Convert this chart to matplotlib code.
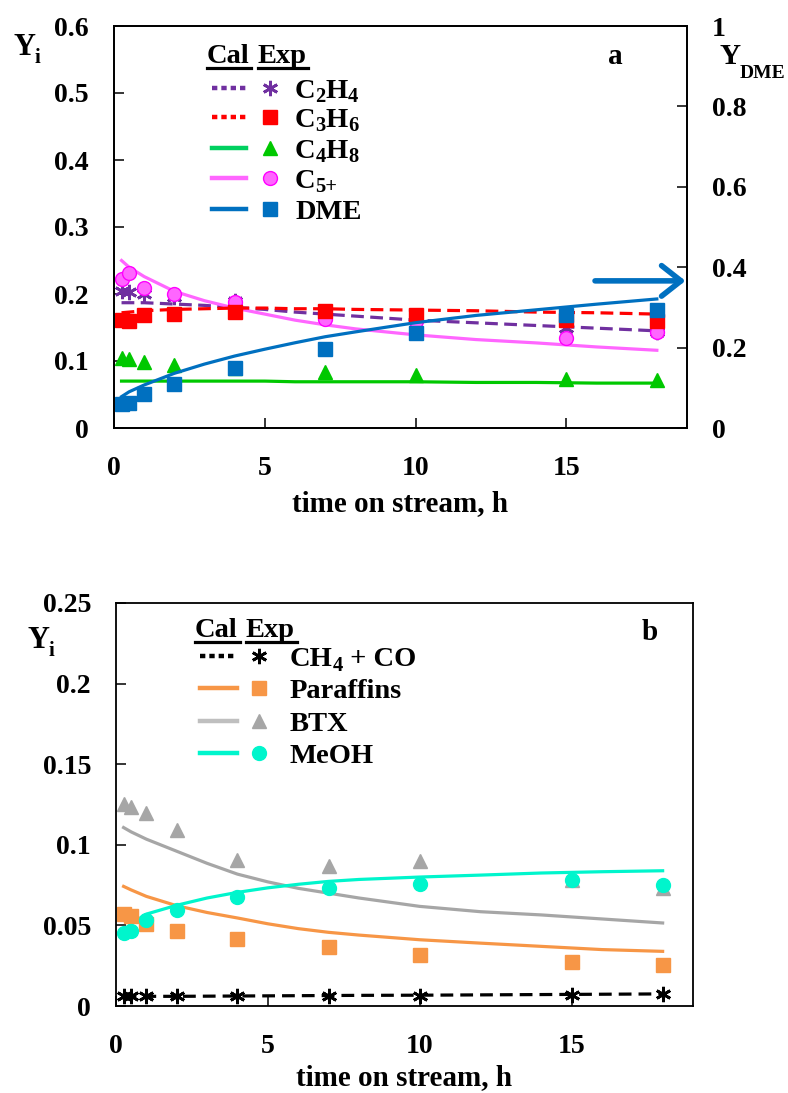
import matplotlib
matplotlib.use("Agg")
import matplotlib.pyplot as plt
from matplotlib.lines import Line2D
from matplotlib.ticker import FuncFormatter, MultipleLocator

plt.rcParams['font.family'] = ['Liberation Serif', 'DejaVu Serif']
plt.rcParams['font.weight'] = 'bold'
plt.rcParams['axes.labelweight'] = 'bold'

# ---------------- data: panel a ----------------
t_exp = [0.25, 0.5, 1, 2, 4, 7, 10, 15, 18]
c2h4_exp = [0.205, 0.203, 0.200, 0.195, 0.190, 0.170, 0.165, 0.149, 0.143]
c3h6_exp = [0.161, 0.160, 0.168, 0.170, 0.173, 0.175, 0.169, 0.161, 0.159]
c4h8_exp = [0.104, 0.103, 0.099, 0.094, 0.090, 0.084, 0.079, 0.073, 0.072]
c5_exp = [0.222, 0.232, 0.209, 0.200, 0.188, 0.163, 0.160, 0.135, 0.144]
dme_exp = [0.059, 0.061, 0.084, 0.109, 0.150, 0.196, 0.236, 0.281, 0.293]

t_cal = [0.25, 0.5, 1, 2, 3, 4, 5, 6, 7, 8, 10, 12, 14, 16, 18]
c2h4_cal = [0.187, 0.187, 0.187, 0.185, 0.183, 0.180, 0.177, 0.173, 0.170, 0.167,
            0.161, 0.157, 0.153, 0.149, 0.145]
c3h6_cal = [0.172, 0.173, 0.175, 0.177, 0.178, 0.179, 0.179, 0.178, 0.178, 0.177,
            0.176, 0.175, 0.173, 0.172, 0.170]
c4h8_cal = [0.070, 0.070, 0.070, 0.070, 0.070, 0.070, 0.070, 0.069, 0.069, 0.069,
            0.069, 0.068, 0.068, 0.067, 0.067]
c5_cal = [0.250, 0.240, 0.226, 0.204, 0.190, 0.179, 0.170, 0.161, 0.154, 0.148,
          0.139, 0.132, 0.127, 0.121, 0.116]
dme_cal = [0.078, 0.090, 0.107, 0.136, 0.159, 0.179, 0.196, 0.212, 0.227, 0.239,
           0.262, 0.280, 0.294, 0.308, 0.321]

# ---------------- data: panel b ----------------
ch4co_exp = [0.006, 0.006, 0.006, 0.006, 0.0062, 0.0064, 0.0065, 0.0068, 0.0075]
paraf_exp = [0.0571, 0.0556, 0.0511, 0.0467, 0.0416, 0.0366, 0.0318, 0.0273, 0.0255]
btx_exp = [0.1254, 0.1233, 0.1196, 0.1093, 0.0907, 0.0870, 0.0897, 0.0780, 0.0730]
meoh_exp = [0.0453, 0.0463, 0.0531, 0.0597, 0.0674, 0.0732, 0.0757, 0.0783, 0.0752]

ch4co_cal = [0.006, 0.006, 0.006, 0.006, 0.0061, 0.0062, 0.0063, 0.0064, 0.0065, 0.0066,
             0.0067, 0.0069, 0.0071, 0.0073, 0.0075]
paraf_cal = [0.0742, 0.0720, 0.0680, 0.0622, 0.0580, 0.0546, 0.0510, 0.0480, 0.0457,
             0.0440, 0.0411, 0.0390, 0.0370, 0.0350, 0.0339]
btx_cal = [0.1107, 0.1080, 0.1035, 0.0960, 0.0885, 0.0818, 0.0770, 0.0730, 0.0700,
           0.0670, 0.0618, 0.0585, 0.0565, 0.0540, 0.0515]
meoh_cal = [0.0470, 0.0510, 0.0570, 0.0625, 0.0670, 0.0705, 0.0733, 0.0755, 0.0773,
            0.0785, 0.0800, 0.0812, 0.0825, 0.0833, 0.0839]

xticks = [0, 5, 10, 15]

# ---------------- styling ----------------
PURPLE = '#7030A0'
RED = '#FF0000'
GREEN = '#00C800'
PINK = '#FF66FF'
PINK_EDGE = '#FF00FF'
BLUE = '#0070C0'
ORANGE = '#F79646'
GRAY = '#A6A6A6'
CYAN = '#00F5CC'

W, H = 788, 1093
fig = plt.figure(figsize=(W / 100, H / 100), dpi=100)
renderer = fig.canvas.get_renderer()


def box(x0, x1, ytop, ybot):
    return [x0 / W, 1 - ybot / H, (x1 - x0) / W, (ybot - ytop) / H]


def fp(x, y):
    return (x / W, 1 - y / H)


def chem(x, base, segments, fs, sub_fs=None, drop=4):
    """Write text with subscripts; x, base in pixels (base = baseline y)."""
    if sub_fs is None:
        sub_fs = fs * 0.72
    for s, is_sub in segments:
        size = sub_fs if is_sub else fs
        yb = base + drop if is_sub else base
        t = fig.text(*fp(x, yb), s, fontsize=size, va='baseline', ha='left')
        bb = t.get_window_extent(renderer=renderer)
        x += bb.width


fmt = FuncFormatter(lambda v, p: '%g' % round(v, 4))
TICK_FS = 20

asterisk = (6, 2, 0)


def style_axis(ax):
    for s in ax.spines.values():
        s.set_linewidth(1.3)
    ax.tick_params(direction='in', length=7, width=1.1, labelsize=TICK_FS)
    ax.tick_params(axis='x', pad=20)
    ax.tick_params(axis='y', pad=18)


# ================= panel a =================
axa = fig.add_axes(box(114, 687, 26, 428))
axa2 = axa.twinx()
axa.set_xlim(0, 19)
axa.set_ylim(0, 0.6)
axa2.set_ylim(0, 1.0)
axa.set_xticks(xticks)
axa.yaxis.set_major_locator(MultipleLocator(0.1))
axa2.yaxis.set_major_locator(MultipleLocator(0.2))
axa.yaxis.set_major_formatter(fmt)
axa2.yaxis.set_major_formatter(fmt)
style_axis(axa)
style_axis(axa2)

LW = 2.3
DASH = (0, (4, 2))
axa.plot(t_cal, c2h4_cal, color=PURPLE, lw=LW, ls=DASH)
axa.plot(t_cal, c4h8_cal, color=GREEN, lw=LW)
axa.plot(t_cal, c5_cal, color=PINK, lw=LW)
axa.plot(t_cal, c3h6_cal, color=RED, lw=LW, ls=DASH)
MS = 10
axa.plot(t_exp, c2h4_exp, ls='none', marker=asterisk, ms=11, mew=2, color=PURPLE)
axa.plot(t_exp, c4h8_exp, ls='none', marker='^', ms=MS, color=GREEN, mec=GREEN)
axa.plot(t_exp, c5_exp, ls='none', marker='o', ms=MS, color=PINK, mec=PINK_EDGE, mew=1)
axa.plot(t_exp, c3h6_exp, ls='none', marker='s', ms=MS - 0.5, color=RED, mec=RED)
axa2.plot(t_cal, dme_cal, color=BLUE, lw=LW)
axa2.plot(t_exp, dme_exp, ls='none', marker='s', ms=MS - 0.5, color=BLUE, mec=BLUE)

axa2.annotate('', xy=(18.95, 0.366), xytext=(15.95, 0.366), xycoords='data',
              arrowprops=dict(arrowstyle='->,head_length=0.7,head_width=0.55',
                              lw=4, color=BLUE, mutation_scale=20,
                              shrinkA=0, shrinkB=0))

axa.set_xlabel('time on stream, h', fontsize=21, labelpad=7, fontweight='bold')

chem(13, 55, [('Y', False), ('i', True)], 22, sub_fs=15, drop=8)
chem(719, 64, [('Y', False), ('DME', True)], 21, sub_fs=14, drop=14)
fig.text(*fp(615, 57), 'a', fontsize=21, va='center', ha='center')

# legend a (manual)
LFS = 20.5
fig.text(*fp(207, 63), 'Cal', fontsize=LFS, va='baseline', ha='left')
fig.text(*fp(258, 63), 'Exp', fontsize=LFS, va='baseline', ha='left')
fig.add_artist(Line2D([207 / W, 251 / W], [1 - 68 / H] * 2, color='black', lw=2.3,
                      transform=fig.transFigure))
fig.add_artist(Line2D([258 / W, 308 / W], [1 - 68 / H] * 2, color='black', lw=2.3,
                      transform=fig.transFigure))
rows_a = [
    (88, PURPLE, (0, (1.2, 0.9)), asterisk, PURPLE, PURPLE,
     [('C', False), ('2', True), ('H', False), ('4', True)]),
    (117, RED, (0, (1.2, 0.9)), 's', RED, RED,
     [('C', False), ('3', True), ('H', False), ('6', True)]),
    (148, '#00D060', '-', '^', GREEN, GREEN,
     [('C', False), ('4', True), ('H', False), ('8', True)]),
    (178, PINK, '-', 'o', PINK, PINK_EDGE, [('C', False), ('5+', True)]),
    (209, BLUE, '-', 's', BLUE, BLUE, [('DME', False)]),
]
for y, lc, ls, mk, mc, mec, segs in rows_a:
    fig.add_artist(Line2D([212 / W, 246 / W], [1 - y / H] * 2, color=lc, lw=3.2, ls=ls,
                          transform=fig.transFigure))
    fig.add_artist(Line2D([270 / W], [1 - y / H], color=mc, marker=mk, ms=11 if mk == asterisk else MS,
                          mec=mec, mew=2 if mk == asterisk else 1, ls='none',
                          transform=fig.transFigure))
    chem(295, y + 10, segs, LFS, drop=4)

# ================= panel b =================
axb = fig.add_axes(box(116, 693, 603, 1006))
axb.set_xlim(0, 19)
axb.set_ylim(0, 0.25)
axb.set_xticks(xticks)
axb.yaxis.set_major_locator(MultipleLocator(0.05))
axb.yaxis.set_major_formatter(fmt)
style_axis(axb)
axb.tick_params(right=False)

axb.plot(t_cal, ch4co_cal, color='black', lw=LW, ls=(0, (4, 2.2)))
axb.plot(t_cal, paraf_cal, color=ORANGE, lw=LW)
axb.plot(t_cal, btx_cal, color=GRAY, lw=LW)
axb.plot(t_cal, meoh_cal, color=CYAN, lw=LW)
axb.plot(t_exp, ch4co_exp, ls='none', marker=asterisk, ms=11, mew=2, color='black')
axb.plot(t_exp, paraf_exp, ls='none', marker='s', ms=MS - 0.5, color=ORANGE, mec=ORANGE)
axb.plot(t_exp, btx_exp, ls='none', marker='^', ms=MS, color=GRAY, mec=GRAY)
axb.plot(t_exp, meoh_exp, ls='none', marker='o', ms=MS, color=CYAN, mec=CYAN)

axb.set_xlabel('time on stream, h', fontsize=21, labelpad=4, fontweight='bold')

chem(27, 648, [('Y', False), ('i', True)], 22, sub_fs=15, drop=8)
fig.text(*fp(650, 632), 'b', fontsize=21, va='center', ha='center')

fig.text(*fp(195, 637), 'Cal', fontsize=LFS, va='baseline', ha='left')
fig.text(*fp(246, 637), 'Exp', fontsize=LFS, va='baseline', ha='left')
fig.add_artist(Line2D([195 / W, 240 / W], [1 - 642 / H] * 2, color='black', lw=2.3,
                      transform=fig.transFigure))
fig.add_artist(Line2D([246 / W, 297 / W], [1 - 642 / H] * 2, color='black', lw=2.3,
                      transform=fig.transFigure))
rows_b = [
    (656, 'black', (0, (1.2, 0.9)), asterisk, 'black', 'black',
     [('CH', False), ('4', True), (' + CO', False)]),
    (688, ORANGE, '-', 's', ORANGE, ORANGE, [('Paraffins', False)]),
    (721, '#BFBFBF', '-', '^', GRAY, GRAY, [('BTX', False)]),
    (753, CYAN, '-', 'o', CYAN, CYAN, [('MeOH', False)]),
]
for y, lc, ls, mk, mc, mec, segs in rows_b:
    fig.add_artist(Line2D([200 / W, 237 / W], [1 - y / H] * 2, color=lc, lw=3.2, ls=ls,
                          transform=fig.transFigure))
    fig.add_artist(Line2D([259 / W], [1 - y / H], color=mc, marker=mk, ms=11 if mk == asterisk else MS,
                          mec=mec, mew=2 if mk == asterisk else 1, ls='none',
                          transform=fig.transFigure))
    chem(290, y + 10, segs, LFS, drop=5)

fig.savefig('out.png', dpi=100)
